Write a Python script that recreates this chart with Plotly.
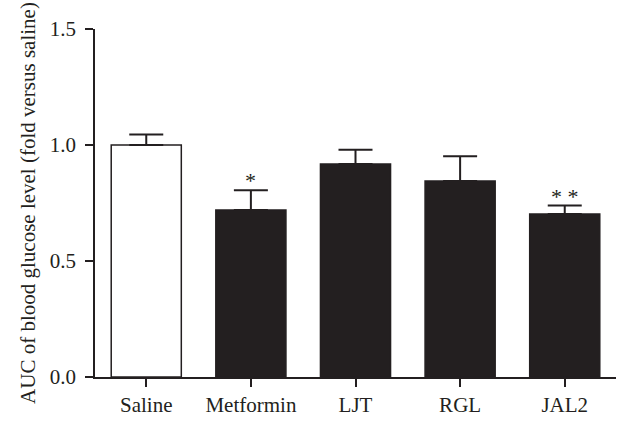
import plotly.graph_objects as go

# Group labels, mean AUC (fold vs saline) and SEM
groups = ["Saline", "Metformin", "LJT", "RGL", "JAL2"]
auc_mean = [1.00, 0.72, 0.918, 0.845, 0.703]
auc_sem = [0.045, 0.085, 0.062, 0.106, 0.036]
significance = ["", "*", "", "", "**"]
bar_fill = ["#ffffff", "#231f20", "#231f20", "#231f20", "#231f20"]
y_ticks = [0.0, 0.5, 1.0, 1.5]

ink = "#231f20"
font_family = "Liberation Serif, Times New Roman, serif"

fig = go.Figure()
fig.add_trace(go.Bar(
    x=groups,
    y=auc_mean,
    width=0.67,
    marker=dict(color=bar_fill, line=dict(color=ink, width=1.5)),
    error_y=dict(type="data", array=auc_sem, arrayminus=[0] * len(auc_sem),
                 symmetric=False, color=ink, thickness=2, width=17),
    showlegend=False,
))

# significance marks above the error bars
for g, m, s, star in zip(groups, auc_mean, auc_sem, significance):
    if star:
        fig.add_annotation(
            x=g, y=m + s, text=" ".join(star), showarrow=False,
            yanchor="bottom", yshift=-5,
            font=dict(family=font_family, size=22, color=ink),
        )

fig.update_layout(
    width=621, height=421,
    margin=dict(l=95, r=5, t=29, b=44),
    paper_bgcolor="white", plot_bgcolor="white",
    font=dict(family=font_family, size=21, color=ink),
    bargap=0.33,
)
fig.update_xaxes(
    range=[-0.49, 4.49], showline=True, linecolor=ink, linewidth=1.5,
    ticks="outside", ticklen=8, tickwidth=1.5, tickcolor=ink,
    showgrid=False, zeroline=False,
    tickfont=dict(family=font_family, size=21, color=ink),
)
fig.update_yaxes(
    range=[0, 1.5], tickvals=y_ticks, tickformat=".1f",
    showline=True, linecolor=ink, linewidth=1.5,
    ticks="outside", ticklen=8, tickwidth=1.5, tickcolor=ink,
    ticklabelstandoff=5,
    showgrid=False, zeroline=False,
    tickfont=dict(family=font_family, size=21, color=ink),
    title=dict(text="AUC of blood glucose level (fold versus saline)",
               font=dict(family=font_family, size=21, color=ink), standoff=8),
)

fig.write_html("out.html")
